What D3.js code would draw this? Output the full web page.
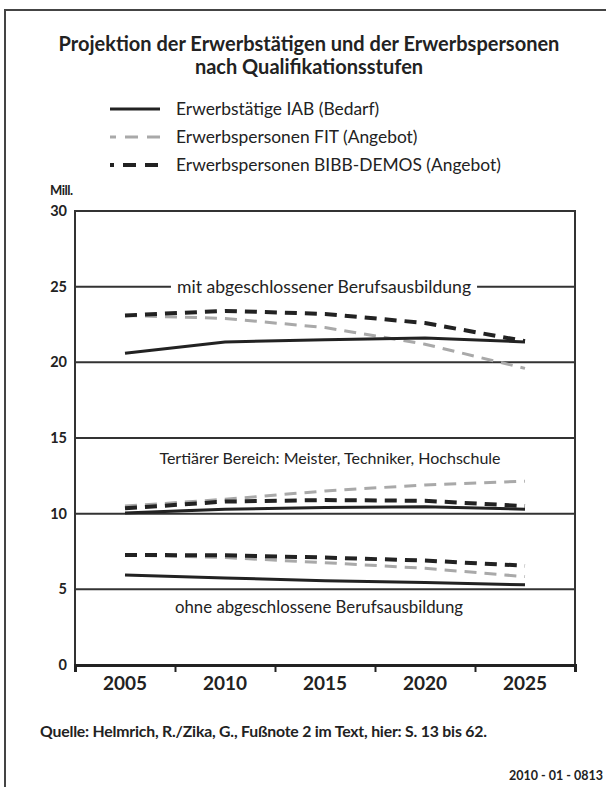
<!DOCTYPE html>
<html>
<head>
<meta charset="utf-8">
<script src="https://cdn.jsdelivr.net/npm/d3@7"></script>
<style>
  body { margin: 0; background: #fff; }
  text { font-family: Lato, "Open Sans", sans-serif; fill: #222; }
</style>
</head>
<body>
<div id="chart"></div>
<script>
// data (Mill.)
const years = [2005, 2010, 2015, 2020, 2025];
const seriesNames = ["Erwerbstätige IAB (Bedarf)", "Erwerbspersonen FIT (Angebot)", "Erwerbspersonen BIBB-DEMOS (Angebot)"];

const mitIAB = [20.6, 21.35, 21.5, 21.6, 21.35];
const mitFIT = [23.1, 22.9, 22.3, 21.2, 19.6];
const mitBIBB = [23.1, 23.4, 23.2, 22.6, 21.4];

const tertIAB = [10.05, 10.3, 10.4, 10.45, 10.3];
const tertFIT = [10.5, 10.95, 11.5, 11.9, 12.15];
const tertBIBB = [10.35, 10.8, 10.9, 10.85, 10.5];

const ohneIAB = [5.95, 5.75, 5.57, 5.45, 5.3];
const ohneFIT = [7.27, 7.1, 6.76, 6.39, 5.84];
const ohneBIBB = [7.27, 7.25, 7.1, 6.9, 6.56];

const yTicks = [0, 5, 10, 15, 20, 25, 30];
const groupLabels = ["mit abgeschlossener Berufsausbildung", "Tertiärer Bereich: Meister, Techniker, Hochschule", "ohne abgeschlossene Berufsausbildung"];
const groupLabelValues = [25, 13.65, 3.8];

const W = 606, H = 787;
const margin = { top: 211, right: 31, bottom: 122, left: 75 };
const w = W - margin.left - margin.right;
const h = H - margin.top - margin.bottom;

const svg = d3.select("#chart").append("svg")
  .attr("width", W)
  .attr("height", H);

// outer frame (top + left only visible)
svg.append("path")
  .attr("d", "M5,787 V10 H606")
  .attr("fill", "none")
  .attr("stroke", "#444")
  .attr("stroke-width", 2);

// title
const title = svg.append("text")
  .attr("text-anchor", "middle")
  .attr("x", 309)
  .attr("font-size", 20)
  .attr("font-weight", "bold");
title.append("tspan").attr("x", 309).attr("y", 51).text("Projektion der Erwerbstätigen und der Erwerbspersonen");
title.append("tspan").attr("x", 309).attr("y", 74).text("nach Qualifikationsstufen");

// scales
const x = d3.scaleBand().domain(years).range([0, w]);
const y = d3.scaleLinear().domain([0, 30]).range([h, 0]);
const xc = d => x(d) + x.bandwidth() / 2;

const styles = [
  { stroke: "#222", width: 3, dash: null },
  { stroke: "#a9a9a9", width: 3, dash: "12,8" },
  { stroke: "#222", width: 4, dash: "12,8" }
];

// legend
const legend = svg.append("g").attr("transform", "translate(110,109)");
seriesNames.forEach((name, i) => {
  const row = legend.append("g").attr("transform", "translate(0," + (i * 28) + ")");
  row.append("line")
    .attr("x1", 0).attr("x2", 50)
    .attr("stroke", styles[i].stroke)
    .attr("stroke-width", styles[i].width)
    .attr("stroke-dasharray", i === 0 ? null : (i === 1 ? "6,9,13,9,13" : "4,9,13,9,13"));
  row.append("text")
    .attr("x", 66).attr("dy", "0.35em")
    .attr("font-size", 17.4)
    .text(name);
});

const g = svg.append("g").attr("transform", "translate(" + margin.left + "," + margin.top + ")");

// horizontal lines at inner ticks
g.selectAll(".grid")
  .data(yTicks.filter(d => d > 0 && d < 30))
  .enter().append("line")
  .attr("class", "grid")
  .attr("x1", 0).attr("x2", w)
  .attr("y1", d => y(d)).attr("y2", d => y(d))
  .attr("stroke", "#333")
  .attr("stroke-width", 2);

// plot frame
g.append("rect")
  .attr("width", w).attr("height", h)
  .attr("fill", "none")
  .attr("stroke", "#333")
  .attr("stroke-width", 2);

// y axis labels
const yAxis = g.append("g").call(d3.axisLeft(y).tickValues(yTicks).tickSize(0).tickPadding(8));
yAxis.select(".domain").remove();
yAxis.selectAll("text")
  .attr("font-size", 14.5)
  .attr("font-weight", "bold")
  .style("font-family", "Lato, sans-serif")
  .attr("fill", "#222");

g.append("text")
  .attr("x", -25).attr("y", -16)
  .attr("font-size", 13)
  .attr("font-weight", "bold")
  .attr("letter-spacing", -0.5)
  .text("Mill.");

// x axis: boundary ticks + year labels
const xEdge = d3.scaleLinear().domain([2002.5, 2027.5]).range([0, w]);
const xTickAxis = g.append("g")
  .attr("transform", "translate(0," + h + ")")
  .call(d3.axisBottom(xEdge).tickValues(d3.range(2002.5, 2028, 5)).tickSize(7).tickFormat(""));
xTickAxis.select(".domain").attr("stroke", "#222").attr("stroke-width", 3);
xTickAxis.selectAll(".tick line").attr("stroke", "#222").attr("stroke-width", 2);

const xLabelAxis = g.append("g")
  .attr("transform", "translate(0," + h + ")")
  .call(d3.axisBottom(x).tickSize(0).tickPadding(12));
xLabelAxis.select(".domain").remove();
xLabelAxis.selectAll("text")
  .attr("font-size", 19)
  .attr("font-weight", "bold")
  .style("font-family", "Lato, sans-serif")
  .attr("fill", "#222");

// group labels (with white background breaking the grid line)
const labelSizes = [17.6, 16, 16.8];
const labelShift = [-1, 5, -6];
groupLabels.forEach((label, i) => {
  const t = g.append("text")
    .attr("x", w / 2 + labelShift[i])
    .attr("y", y(groupLabelValues[i]))
    .attr("dy", "0.35em")
    .attr("text-anchor", "middle")
    .attr("font-size", labelSizes[i])
    .text(label);
  const bb = t.node().getBBox();
  g.insert("rect", () => t.node())
    .attr("x", bb.x - 6).attr("y", bb.y)
    .attr("width", bb.width + 12).attr("height", bb.height)
    .attr("fill", "#fff");
});

// series lines
const line = d3.line().x((d, i) => xc(years[i])).y(d => y(d));
const groups = [
  [mitIAB, mitFIT, mitBIBB],
  [tertIAB, tertFIT, tertBIBB],
  [ohneIAB, ohneFIT, ohneBIBB]
];
const drawOrder = [1, 2, 0];
groups.forEach(grp => {
  drawOrder.forEach(si => {
    g.append("path")
      .datum(grp[si])
      .attr("d", line)
      .attr("fill", "none")
      .attr("stroke", styles[si].stroke)
      .attr("stroke-width", styles[si].width)
      .attr("stroke-dasharray", styles[si].dash);
  });
});

// source + id
svg.append("text")
  .attr("x", 40).attr("y", 737)
  .attr("font-size", 15.8)
  .attr("font-weight", "bold")
  .attr("letter-spacing", -0.2)
  .text("Quelle: Helmrich, R./Zika, G., Fußnote 2 im Text, hier: S. 13 bis 62.");

svg.append("text")
  .attr("x", 603).attr("y", 780)
  .attr("text-anchor", "end")
  .attr("font-size", 12.5)
  .attr("font-weight", "bold")
  .text("2010 - 01 - 0813");
</script>
</body>
</html>
